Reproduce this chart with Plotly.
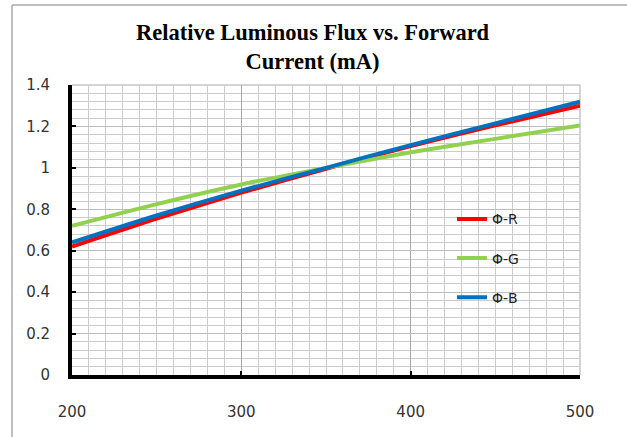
import plotly.graph_objects as go

current = [200, 250, 300, 350, 400, 450, 500]
flux_r = [0.62, 0.755, 0.88, 0.995, 1.105, 1.205, 1.30]
flux_g = [0.72, 0.825, 0.92, 1.0, 1.075, 1.14, 1.205]
flux_b = [0.64, 0.77, 0.89, 1.0, 1.11, 1.215, 1.32]
names = ["Φ-R", "Φ-G", "Φ-B"]
colors = ["#ff0000", "#92d050", "#0070c0"]
title_text = "<b>Relative Luminous Flux vs. Forward<br>Current (mA)</b>"

W, H = 627, 437
ML, MR, MT, MB = 72, 47, 85, 62
px_w, px_h = W - ML - MR, H - MT - MB

fig = go.Figure()
for nm, ys, c in zip(names, [flux_r, flux_g, flux_b], colors):
    fig.add_trace(go.Scatter(x=current, y=ys, mode="lines", name=nm,
                             legendgroup=nm,
                             line=dict(color=c, width=4, shape="spline", smoothing=0.6)))

fig.update_layout(
    width=W, height=H,
    margin=dict(l=ML, r=MR, t=MT, b=MB),
    paper_bgcolor="white", plot_bgcolor="white",
    legend=dict(x=0.748, y=0.592, xanchor="left", yanchor="top",
                bgcolor="rgba(0,0,0,0)", font=dict(family="DejaVu Sans", size=14, color="#222"),
                tracegroupgap=18, itemwidth=30),
    showlegend=True,
)
fig.add_annotation(text=title_text, xref="paper", yref="paper",
                   x=(313 - ML) / px_w, y=(H - MB - 47) / px_h,
                   xanchor="center", yanchor="middle", showarrow=False,
                   font=dict(family="Liberation Serif", size=22.5, color="black"))

fig.update_xaxes(range=[200, 500], dtick=100, tick0=200,
                 showline=True, linecolor="black", linewidth=4,
                 ticks="inside", ticklen=4, tickwidth=2, tickcolor="black",
                 showgrid=True, gridcolor="#a8a8a8", gridwidth=1,
                 minor=dict(dtick=10, showgrid=True, gridcolor="#cccccc", gridwidth=1),
                 zeroline=False, ticklabelstandoff=20,
                 tickfont=dict(family="DejaVu Sans", size=15, color="#333"))
fig.update_yaxes(range=[0, 1.4], dtick=0.2, tick0=0,
                 showline=True, linecolor="black", linewidth=4,
                 ticks="inside", ticklen=4, tickwidth=2, tickcolor="black",
                 showgrid=True, gridcolor="#bcbcbc", gridwidth=1,
                 minor=dict(dtick=0.04, showgrid=True, gridcolor="#cccccc", gridwidth=1),
                 zeroline=False, ticklabelstandoff=15,
                 tickfont=dict(family="DejaVu Sans", size=15, color="#333"))

# plot-area top/right edges and chart frame
fig.add_shape(type="line", xref="paper", yref="paper", x0=0, x1=1, y0=1, y1=1,
              line=dict(color="#a8a8a8", width=1), layer="below")
fig.add_shape(type="line", xref="paper", yref="paper", x0=1, x1=1, y0=0, y1=1,
              line=dict(color="#a8a8a8", width=1), layer="below")
fig.add_shape(type="line", xref="paper", yref="paper",
              x0=(12 - ML) / px_w, x1=(W - ML) / px_w,
              y0=(H - MB - 5) / px_h, y1=(H - MB - 5) / px_h,
              line=dict(color="#aaaaaa", width=1.5))
fig.add_shape(type="line", xref="paper", yref="paper",
              x0=(12 - ML) / px_w, x1=(12 - ML) / px_w,
              y0=-MB / px_h, y1=(H - MB - 5) / px_h,
              line=dict(color="#aaaaaa", width=1.5))

fig.write_html("out.html", config={"displayModeBar": False},
               post_script="document.body.style.margin='0';")
